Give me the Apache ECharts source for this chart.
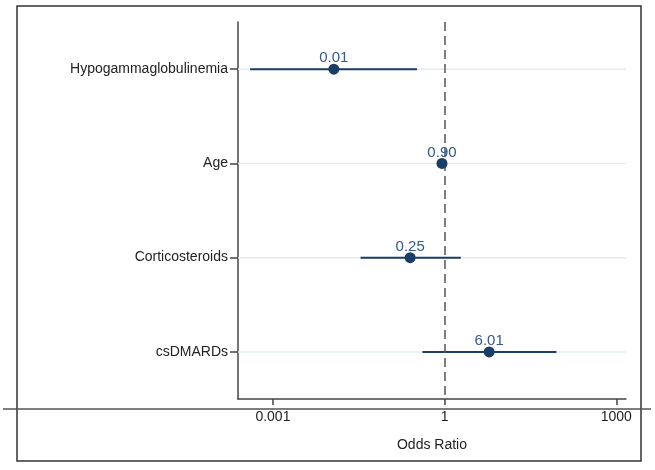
<!DOCTYPE html>
<html>
<head>
<meta charset="utf-8">
<script src="https://cdn.jsdelivr.net/npm/echarts@6/dist/echarts.min.js"></script>
<style>html,body{margin:0;padding:0;background:#fff}#c{width:655px;height:470px}</style>
</head>
<body>
<div id="c"></div>
<script>
const categories = ['Hypogammaglobulinemia', 'Age', 'Corticosteroids', 'csDMARDs'];
const oddsRatio = [0.0116, 0.90, 0.25, 6.01];
const ciLow = [0.0004, 0.85, 0.034, 0.41];
const ciHigh = [0.33, 0.95, 1.92, 90];
const pointLabels = ['0.01', '0.90', '0.25', '6.01'];
const tickValues = [0.001, 1, 1000];
const tickLabels = ['0.001', '1', '1000'];
const axisMinOR = Math.pow(10, -3.61);
const axisMaxOR = Math.pow(10, 3.17);
const refOR = 1;

const L = Math.log10;
const font = 'Liberation Sans, Arial, sans-serif';
const navy = '#1b3e66';

const chart = echarts.init(document.getElementById('c'), null, {renderer: 'canvas'});

const ciData = categories.map((c, i) => [L(ciLow[i]), L(ciHigh[i]), i]);
const ptData = categories.map((c, i) => ({value: [L(oddsRatio[i]), i], label: {formatter: pointLabels[i]}}));

chart.setOption({
  animation: false,
  textStyle: {fontFamily: font},
  graphic: [
    {type: 'rect', shape: {x: 17, y: 6, width: 624, height: 455}, style: {fill: 'none', stroke: '#333', lineWidth: 1.5}, z: -1},
    {type: 'line', shape: {x1: 3, y1: 409, x2: 651, y2: 409}, style: {stroke: '#555', lineWidth: 1.5}, z: 10}
  ],
  grid: {left: 238, top: 22, right: 29, bottom: 71, containLabel: false},
  xAxis: {
    type: 'value',
    min: L(axisMinOR),
    max: L(axisMaxOR),
    name: 'Odds Ratio',
    nameLocation: 'middle',
    nameGap: 39,
    nameTextStyle: {fontSize: 14, color: '#222', fontFamily: font},
    axisLine: {show: true, onZero: false, lineStyle: {color: '#444', width: 1.5}},
    axisTick: {show: true, length: 6, lineStyle: {color: '#444', width: 1.5}, customValues: tickValues.map(L)},
    axisLabel: {
      fontSize: 14, color: '#222', margin: 11, fontFamily: font,
      customValues: tickValues.map(L),
      formatter: v => {
        const i = tickValues.findIndex(t => Math.abs(L(t) - v) < 1e-6);
        return i >= 0 ? tickLabels[i] : '';
      }
    },
    splitLine: {show: false}
  },
  yAxis: {
    type: 'category',
    data: categories,
    inverse: true,
    boundaryGap: true,
    axisLine: {show: true, onZero: false, lineStyle: {color: '#444', width: 1.5}},
    axisTick: {show: true, alignWithLabel: true, length: 8, lineStyle: {color: '#444', width: 1.5}},
    axisLabel: {fontSize: 14, color: '#222', margin: 10, fontFamily: font},
    splitLine: {show: false}
  },
  series: [
    {
      type: 'custom',
      data: ciData,
      z: 2,
      renderItem: function (params, api) {
        const y = api.coord([0, api.value(2)])[1];
        const a = api.coord([api.value(0), api.value(2)]);
        const b = api.coord([api.value(1), api.value(2)]);
        const cs = params.coordSys;
        return {
          type: 'group',
          children: [
            {type: 'line', shape: {x1: cs.x, y1: y, x2: cs.x + cs.width, y2: y}, style: {stroke: '#e3ecef', lineWidth: 1.5}, z2: 0},
            {type: 'line', shape: {x1: a[0], y1: a[1], x2: b[0], y2: b[1]}, style: {stroke: navy, lineWidth: 2}, z2: 5}
          ]
        };
      }
    },
    {
      type: 'scatter',
      data: ptData,
      symbol: 'circle',
      symbolSize: 11,
      z: 4,
      itemStyle: {color: navy, opacity: 1},
      label: {show: true, position: 'top', distance: -2, fontSize: 15, color: '#34598a', fontFamily: font},
      markLine: {
        silent: true,
        symbol: 'none',
        label: {show: false},
        lineStyle: {color: '#555', type: [9, 5], width: 1.5},
        data: [{xAxis: L(refOR)}],
        z: 3
      }
    }
  ]
});
</script>
</body>
</html>
